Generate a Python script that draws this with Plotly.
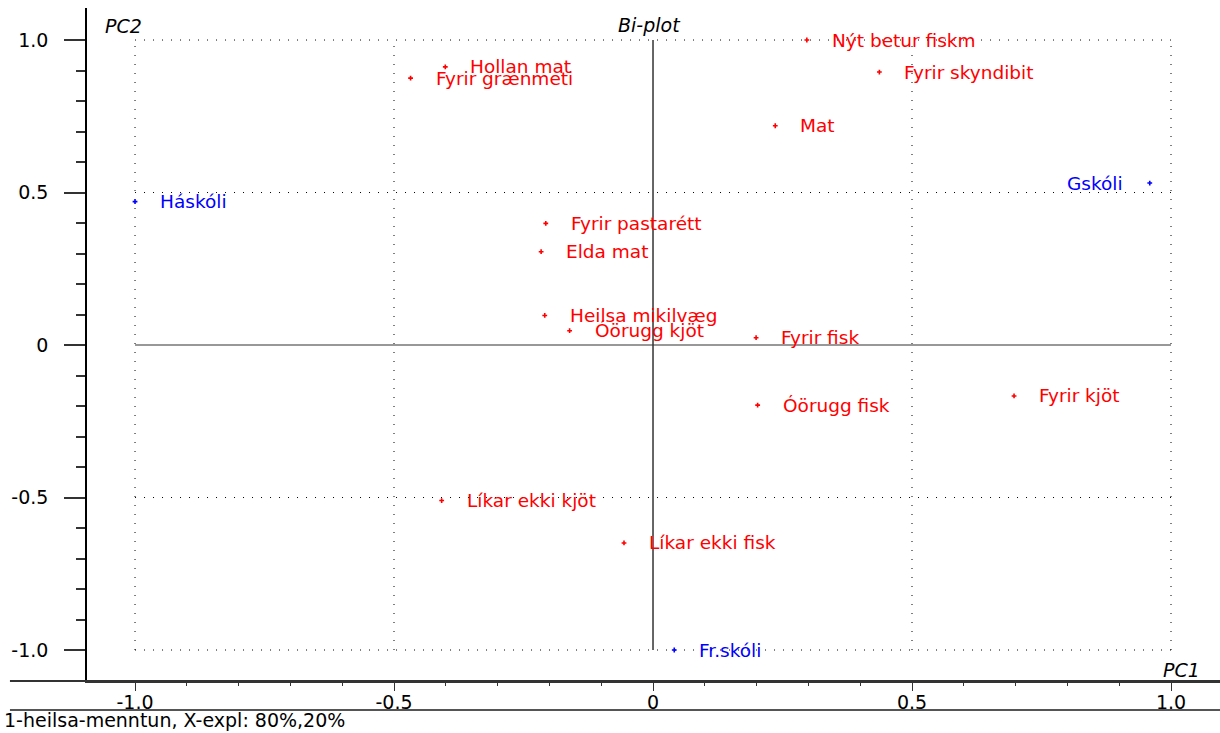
import numpy as np
import plotly.graph_objects as go

# ---- data ----
var_names = ["Nýt betur fiskm", "Fyrir skyndibit", "Mat", "Hollan mat", "Fyrir grænmeti",
             "Fyrir pastarétt", "Elda mat", "Heilsa mikilvæg", "Óörugg kjöt", "Fyrir fisk",
             "Óörugg fisk", "Fyrir kjöt", "Líkar ekki kjöt", "Líkar ekki fisk"]
var_x = [0.297, 0.437, 0.236, -0.401, -0.468, -0.207, -0.216, -0.209, -0.161, 0.199,
         0.202, 0.697, -0.408, -0.056]
var_y = [1.000, 0.895, 0.719, 0.912, 0.875, 0.399, 0.306, 0.097, 0.047, 0.024,
         -0.197, -0.167, -0.510, -0.649]

obj_names = ["Háskóli", "Gskóli", "Fr.skóli"]
obj_x = [-1.000, 0.959, 0.041]
obj_y = [0.470, 0.531, -1.000]
obj_side = ["right", "left", "right"]

tick_vals = [-1.0, -0.5, 0.0, 0.5, 1.0]
tick_text = ["-1.0", "-0.5", "0", "0.5", "1.0"]
ytick_text = ["-1.0", "-0.5", "0", "0.5", "1.0"]

FONT = "DejaVu Sans"
RED = "#ff0000"
BLUE = "#0000ff"

fig = go.Figure()

fig.add_trace(go.Scatter(x=var_x, y=var_y, mode="markers",
                         marker=dict(symbol="cross", size=4, color=RED, line=dict(width=0)),
                         hoverinfo="text", text=var_names, showlegend=False))
fig.add_trace(go.Scatter(x=obj_x, y=obj_y, mode="markers",
                         marker=dict(symbol="cross", size=4, color=BLUE, line=dict(width=0)),
                         hoverinfo="text", text=obj_names, showlegend=False))

annotations = []
for n, x, y in zip(var_names, var_x, var_y):
    annotations.append(dict(x=x, y=y, xref="x", yref="y", text=n, showarrow=False,
                            xanchor="left", yanchor="middle", xshift=23, yshift=0,
                            font=dict(family=FONT, size=18.5, color=RED)))
for n, x, y, s in zip(obj_names, obj_x, obj_y, obj_side):
    annotations.append(dict(x=x, y=y, xref="x", yref="y", text=n, showarrow=False,
                            xanchor="left" if s == "right" else "right", yanchor="middle",
                            xshift=23 if s == "right" else -25,
                            font=dict(family=FONT, size=18.5, color=BLUE)))

# titles
annotations.append(dict(x=0.526, y=0.975, xref="paper", yref="paper", text="Bi-plot",
                        showarrow=False, xanchor="right", yanchor="middle",
                        font=dict(family=FONT, size=19, color="black", style="italic")))
annotations.append(dict(x=0.0141, y=0.973, xref="paper", yref="paper", text="PC2",
                        showarrow=False, xanchor="left", yanchor="middle",
                        font=dict(family=FONT, size=19, color="black", style="italic")))
annotations.append(dict(x=0.984, y=0.016, xref="paper", yref="paper", text="PC1",
                        showarrow=False, xanchor="right", yanchor="middle",
                        font=dict(family=FONT, size=19, color="black", style="italic")))
annotations.append(dict(x=-0.075, y=-0.058, xref="paper", yref="paper",
                        text="1-heilsa-menntun, X-expl: 80%,20%",
                        showarrow=False, xanchor="left", yanchor="middle",
                        font=dict(family=FONT, size=19, color="black")))

shapes = []
grid_dash = "1px,8px"
for v in [-1.0, -0.5, 0.5, 1.0]:
    shapes.append(dict(type="line", xref="x", yref="y", x0=v, x1=v, y0=-1, y1=1,
                       line=dict(color="#000000", width=1, dash=grid_dash), layer="below"))
    shapes.append(dict(type="line", xref="x", yref="y", x0=-1, x1=1, y0=v, y1=v,
                       line=dict(color="#000000", width=1, dash=grid_dash), layer="below"))
# zero axes
shapes.append(dict(type="line", xref="x", yref="y", x0=0, x1=0, y0=-1, y1=1,
                   line=dict(color="#000000", width=1.2), layer="below"))
shapes.append(dict(type="line", xref="x", yref="y", x0=-1, x1=1, y0=0, y1=0,
                   line=dict(color="#333333", width=1.2), layer="below"))
# extended bottom axis line and bottom separator
shapes.append(dict(type="line", xref="paper", yref="paper", x0=-0.068, x1=1, y0=0, y1=0,
                   line=dict(color="#333333", width=2)))
shapes.append(dict(type="line", xref="paper", yref="paper", x0=-0.068, x1=1, y0=-0.0431, y1=-0.0431,
                   line=dict(color="#555555", width=2)))

minor_vals = [round(v, 1) for v in np.arange(-1.0, 1.01, 0.1)]

fig.update_layout(
    width=1220, height=733,
    margin=dict(l=87, r=0, t=8, b=52),
    paper_bgcolor="white", plot_bgcolor="white",
    font=dict(family=FONT, size=19, color="black"),
    xaxis=dict(range=[-1.0927, 1.0946], showgrid=False, zeroline=False,
               showline=True, linecolor="#333333", linewidth=2,
               ticks="outside", ticklen=8, tickwidth=1, tickcolor="#333333",
               tickvals=tick_vals, ticktext=tick_text, ticklabelstandoff=-5,
               tickfont=dict(family=FONT, size=19, color="black"),
               minor=dict(tickvals=minor_vals, ticks="outside", ticklen=3,
                          tickcolor="#333333", showgrid=False)),
    yaxis=dict(range=[-1.1016, 1.105], showgrid=False, zeroline=False,
               showline=True, linecolor="black", linewidth=1.5,
               ticks="outside", ticklen=21, tickwidth=1.5, tickcolor="#333333",
               tickvals=tick_vals, ticktext=ytick_text,
               ticklabelstandoff=12,
               tickfont=dict(family=FONT, size=19, color="black"),
               minor=dict(tickvals=minor_vals, ticks="outside", ticklen=9,
                          tickcolor="#333333", tickwidth=1.5, showgrid=False)),
    annotations=annotations,
    shapes=shapes,
)

fig.write_html("out.html", config={"displayModeBar": False},
               post_script="document.body.style.margin='0';document.body.style.overflow='hidden';")
